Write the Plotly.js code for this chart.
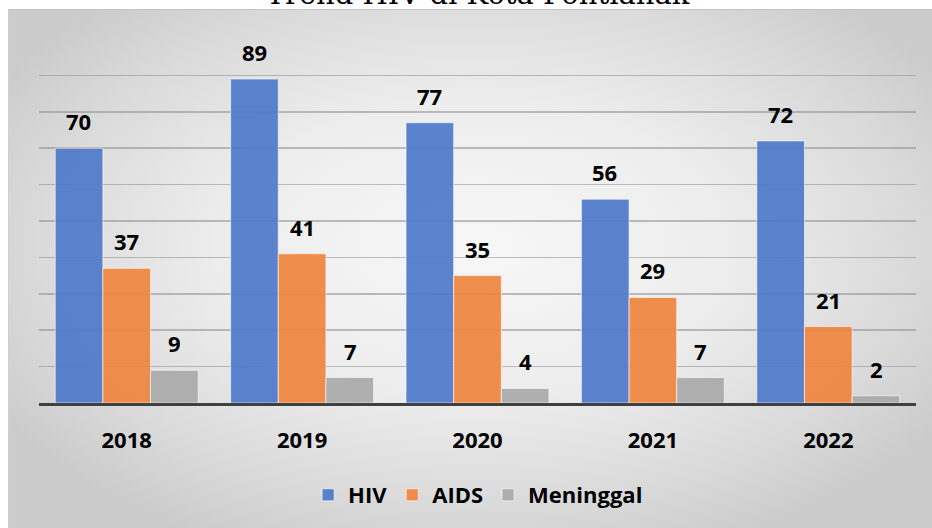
<!DOCTYPE html>
<html>
<head>
<meta charset="utf-8">
<script src="https://cdn.plot.ly/plotly-3.0.1.min.js"></script>
<style>
  html, body { margin: 0; padding: 0; background: #ffffff; width: 932px; height: 528px; overflow: hidden; }
  #box { position: absolute; left: 8px; top: 9px; width: 930px; height: 530px;
         border-left: 1px solid #cfcfcf; border-top: 1px solid #c4c4c4;
         background: radial-gradient(ellipse 60% 62% at 50% 45%, #f7f7f7 0%, #ededed 45%, #d9d9d9 80%, #cbcbcb 100%); }
  #chart { position: absolute; left: 0; top: -6px; width: 932px; height: 534px; }
</style>
</head>
<body>
<div id="box"></div>
<div id="chart"></div>
<script>
const years = ["2018", "2019", "2020", "2021", "2022"];
const hiv = [70, 89, 77, 56, 72];
const aids = [37, 41, 35, 29, 21];
const meninggal = [9, 7, 4, 7, 2];
const seriesNames = ["HIV", "AIDS", "Meninggal"];
const titleText = "Trend HIV di Kota Pontianak";

const colors = ["rgba(78,121,202,0.92)", "rgba(238,132,62,0.92)", "rgba(169,169,169,0.92)"];
const allSeries = [hiv, aids, meninggal];

const traces = allSeries.map((vals, i) => ({
  type: "bar",
  name: seriesNames[i],
  x: years,
  y: vals,
  marker: { color: colors[i], line: { color: "rgba(255,255,255,0.6)", width: 1 } },
  hoverinfo: "skip"
}));

const shifts = [-48, 0, 48];
const annotations = [];
allSeries.forEach((vals, i) => {
  vals.forEach((v, j) => {
    annotations.push({
      x: j, y: v, xref: "x", yref: "y",
      text: String(v), showarrow: false,
      xshift: shifts[i], yshift: 27, yanchor: "middle",
      font: { family: "Open Sans, sans-serif", size: 22, color: "#000000", weight: 700 }
    });
  });
});

const layout = {
  width: 932, height: 534,
  paper_bgcolor: "rgba(0,0,0,0)",
  plot_bgcolor: "rgba(0,0,0,0)",
  margin: { l: 39, r: 16, t: 45, b: 125 },
  barmode: "group",
  bargap: 0.185,
  bargroupgap: 0,
  showlegend: true,
  title: {
    text: titleText,
    y: 1, yref: "container", yanchor: "middle",
    x: 0.5, xref: "paper", xanchor: "center",
    font: { family: "DejaVu Serif, serif", size: 29, color: "#000000" }
  },
  xaxis: {
    type: "category",
    showline: true, linecolor: "#404040", linewidth: 3,
    ticks: "", ticklen: 0, ticklabelstandoff: 16,
    tickfont: { family: "Open Sans, sans-serif", size: 22, color: "#000000", weight: 700 },
    showgrid: false, zeroline: false, fixedrange: true
  },
  yaxis: {
    range: [0, 100], dtick: 10, showticklabels: false, ticks: "",
    showgrid: true, gridcolor: "rgba(140,140,140,0.55)", gridwidth: 1.5,
    zeroline: false, showline: false, fixedrange: true
  },
  legend: {
    orientation: "h", x: 0.513, xref: "container", xanchor: "center",
    y: 0.0618, yref: "container", yanchor: "middle",
    font: { family: "Open Sans, sans-serif", size: 22, color: "#000000", weight: 700 },
    bgcolor: "rgba(0,0,0,0)"
  },
  annotations: annotations
};

Plotly.newPlot("chart", traces, layout, { displayModeBar: false, staticPlot: true });
</script>
</body>
</html>
